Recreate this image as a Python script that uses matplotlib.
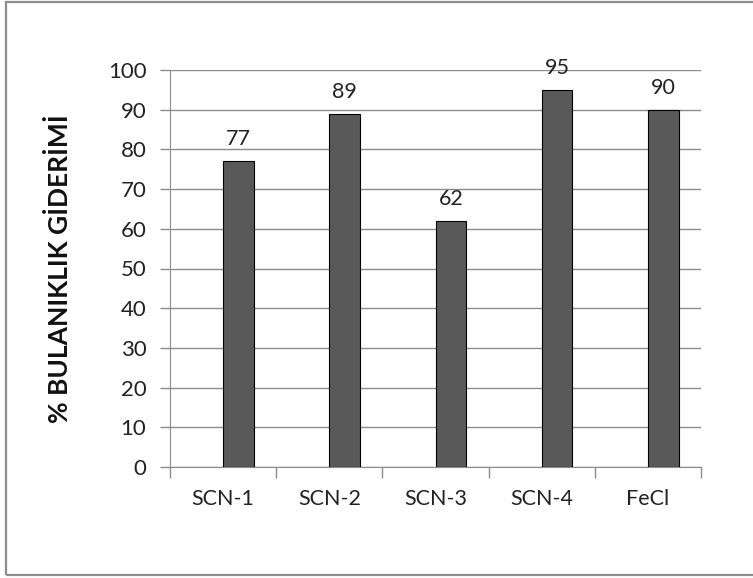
import matplotlib.pyplot as plt
from matplotlib.patches import Rectangle
import numpy as np

categories = ["SCN-1", "SCN-2", "SCN-3", "SCN-4", "FeCl"]
removal = [77, 89, 62, 95, 90]
yticks = [0, 10, 20, 30, 40, 50, 60, 70, 80, 90, 100]

plt.rcParams['font.family'] = ['Lato', 'DejaVu Sans']

W, H = 753, 578
fig = plt.figure(figsize=(W / 100, H / 100), dpi=100)

# outer chart frame
fig.patches.append(Rectangle((6 / W, 3 / H), (W + 4) / W, (H - 5) / H,
                             transform=fig.transFigure, fill=False,
                             edgecolor='#8c8c8c', linewidth=1.6))

ax = fig.add_axes([170 / W, 1 - 467 / H, (701 - 170) / W, (467 - 70) / H])

x = np.arange(len(categories))
offset, width = 0.145, 0.29
ax.bar(x + offset, removal, width=width, color='#595959',
       edgecolor='black', linewidth=0.8, zorder=3)
for xi, v in zip(x, removal):
    ax.text(xi + offset, v + 3, str(v), ha='center', va='bottom',
            fontsize=15.5, color='#222222', zorder=4)

ax.set_xlim(-0.5, len(categories) - 0.5)
ax.set_ylim(0, 100)
ax.set_yticks(yticks)
ax.set_yticklabels([str(t) for t in yticks], fontsize=16, color='#222222')
ax.yaxis.grid(True, color='#8c8c8c', linewidth=1.0, zorder=0)
ax.set_axisbelow(True)

ax.set_xticks(x)
ax.set_xticklabels(categories, fontsize=15.5, color='#222222')
ax.tick_params(axis='x', length=0, pad=16)
ax.set_xticks(np.arange(len(categories) + 1) - 0.5, minor=True)
ax.tick_params(axis='x', which='minor', length=8, color='#8c8c8c', width=1)
ax.tick_params(axis='y', length=7, color='#8c8c8c', width=1, pad=10)

for s in ['top', 'right']:
    ax.spines[s].set_visible(False)
ax.spines['left'].set_color('#8c8c8c')
ax.spines['bottom'].set_color('#8c8c8c')

ax.set_ylabel("% BULANIKLIK GİDERİMİ", fontsize=19, fontweight='bold',
              color='#111111')
ax.yaxis.set_label_coords((72 - 170) / (701 - 170), 0.5)

fig.savefig("out.png", dpi=100)
